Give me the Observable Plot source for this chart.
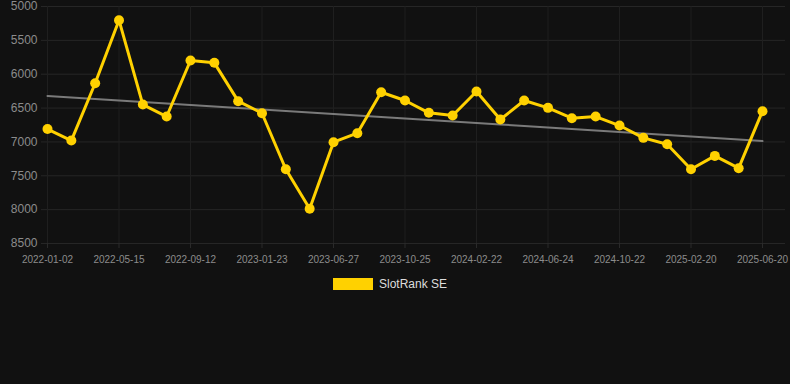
<!DOCTYPE html>
<html>
<head>
<meta charset="utf-8">
<script src="https://cdn.jsdelivr.net/npm/d3@7"></script>
<script src="https://cdn.jsdelivr.net/npm/@observablehq/plot@0.6"></script>
<style>
  html, body { margin: 0; padding: 0; background: #111111; }
  body { width: 790px; height: 384px; overflow: hidden; font-family: "Liberation Sans", Arial, sans-serif; }
  #legend { display: flex; justify-content: center; align-items: center; margin-top: 8px; padding-right: 10px; height: 12px; }
  #legend .sw { width: 40px; height: 12px; background: #FFD100; margin-right: 6px; }
  #legend .lb { color: #dddddd; font-size: 12px; }
</style>
</head>
<body>
<div id="chart"></div>
<div id="legend"><div class="sw"></div><div class="lb">SlotRank SE</div></div>
<script>
const dates = [
  "2022-01-02","2022-02-15","2022-03-31","2022-05-15","2022-06-24","2022-08-03",
  "2022-09-12","2022-10-26","2022-12-09","2023-01-23","2023-03-15","2023-05-05",
  "2023-06-27","2023-08-06","2023-09-15","2023-10-25","2023-12-04","2024-01-13",
  "2024-02-22","2024-04-03","2024-05-14","2024-06-24","2024-08-03","2024-09-12",
  "2024-10-22","2024-12-01","2025-01-10","2025-02-20","2025-04-01","2025-05-11",
  "2025-06-20"
];
const ranks = [
  6810, 6980, 6133, 5202, 6448, 6625,
  5798, 5832, 6398, 6576, 7403, 7988,
  7004, 6871, 6266, 6388, 6570, 6610,
  6256, 6669, 6388, 6497, 6650, 6625,
  6758, 6940, 7034, 7403, 7206, 7388,
  6546
];
const tickLabels = ["2022-01-02","2022-05-15","2022-09-12","2023-01-23","2023-06-27","2023-10-25","2024-02-22","2024-06-24","2024-10-22","2025-02-20","2025-06-20"];
const yTicks = [5000, 5500, 6000, 6500, 7000, 7500, 8000, 8500];
const seriesName = "SlotRank SE";

const data = dates.map((d, i) => ({date: d, rank: ranks[i], i}));
const tickIdx = tickLabels.map(t => dates.indexOf(t));
// linear regression trend over index
const mx = d3.mean(data, d => d.i), my = d3.mean(ranks);
const slope = d3.sum(data, d => (d.i - mx) * (d.rank - my)) / d3.sum(data, d => (d.i - mx) ** 2);
const trend = data.map(d => ({i: d.i, rank: my + slope * (d.i - mx)}));

const chart = Plot.plot({
  width: 790,
  height: 270,
  marginTop: 6,
  marginBottom: 27,
  marginLeft: 41,
  marginRight: 5,
  style: {background: "#111111", fontFamily: "'Liberation Sans', Arial, sans-serif"},
  x: {type: "linear", domain: [0, dates.length - 1], range: [47, 762]},
  y: {domain: [5000, 8500], reverse: true},
  marks: [
    Plot.ruleY(yTicks, {stroke: "#262626", strokeWidth: 1}),
    Plot.ruleX(tickIdx, {stroke: "#1f1f1f", strokeWidth: 1}),
    Plot.axisY(yTicks, {tickSize: 0, tickPadding: 4, fill: "#8c8c8c", fontSize: 12, label: null, tickFormat: d => String(d)}),
    Plot.axisX(tickIdx, {tickSize: 5, stroke: "#2a2a2a", tickPadding: 7, fill: "#8c8c8c", fontSize: 10, label: null, tickFormat: i => dates[i]}),
    Plot.line(trend, {x: "i", y: "rank", stroke: "#7a7a7a", strokeWidth: 2}),
    Plot.line(data, {x: "i", y: "rank", stroke: "#FFD100", strokeWidth: 3}),
    Plot.dot(data, {x: "i", y: "rank", r: 5, fill: "#FFD100", stroke: "none"})
  ]
});
document.getElementById("chart").appendChild(chart);
</script>
</body>
</html>
